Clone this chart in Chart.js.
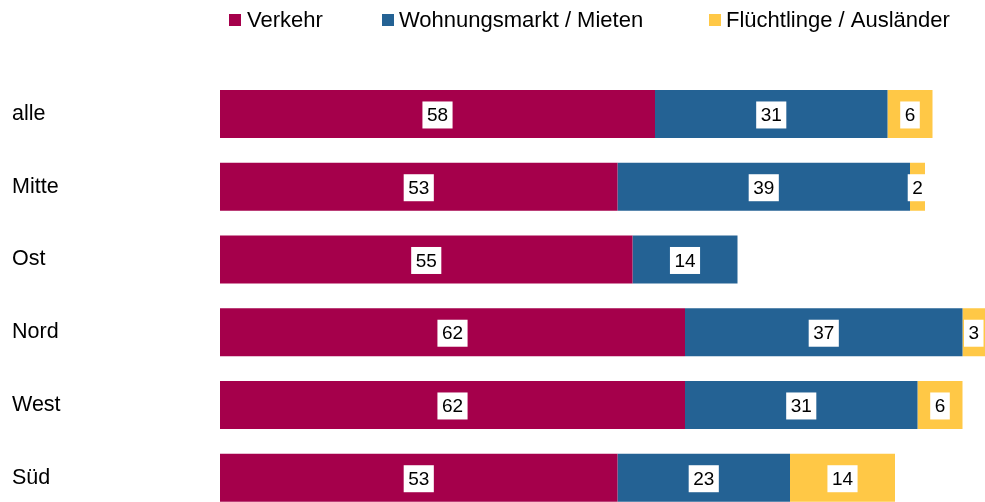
<!DOCTYPE html>
<html>
<head>
<meta charset="utf-8">
<script src="https://cdn.jsdelivr.net/npm/chart.js@4/dist/chart.umd.min.js"></script>
<style>
  html, body { margin: 0; padding: 0; background: #fff; overflow: hidden; }
  canvas { display: block; }
</style>
</head>
<body>
<canvas id="chart" width="985" height="527"></canvas>
<script>
const regions = ['alle', 'Mitte', 'Ost', 'Nord', 'West', 'Süd'];
const verkehr = [58, 53, 55, 62, 62, 53];
const wohnen = [31, 39, 14, 37, 31, 23];
const fluechtlinge = [6, 2, null, 3, 6, 14];
const seriesNames = ['Verkehr', 'Wohnungsmarkt / Mieten', 'Flüchtlinge / Ausländer'];
const colors = ['#a5004b', '#246294', '#ffc846'];

const FONT = '"Liberation Sans", Arial, sans-serif';

// legend drawn at fixed spots like in the original
const legendSpots = [{ box: 229, text: 247 }, { box: 382, text: 399 }, { box: 709, text: 726 }];
const legendPlugin = {
    id: 'legendSpots',
    afterDraw(chart) {
        const c = chart.ctx;
        c.save();
        c.font = '22px ' + FONT;
        c.textBaseline = 'alphabetic';
        chart.data.datasets.forEach((ds, i) => {
            const s = legendSpots[i];
            c.fillStyle = ds.backgroundColor;
            c.fillRect(s.box, 14, 12, 12);
            c.fillStyle = '#000';
            c.fillText(ds.label, s.text, 27);
        });
        c.restore();
    }
};

const labelPlugin = {
    id: 'boxLabels',
    afterDatasetsDraw(chart) {
        const c = chart.ctx;
        c.save();
        c.font = '19px ' + FONT;
        c.textAlign = 'center';
        c.textBaseline = 'middle';
        chart.data.datasets.forEach((ds, i) => {
            chart.getDatasetMeta(i).data.forEach((bar, j) => {
                const v = ds.data[j];
                if (!v) return;
                const txt = String(v);
                const cx = (bar.x + bar.base) / 2;
                const cy = bar.y + 1;
                const w = c.measureText(txt).width + 9;
                c.fillStyle = '#fff';
                c.fillRect(cx - w / 2, cy - 13.5, w, 27);
                c.fillStyle = '#000';
                c.fillText(txt, cx, cy + 1);
            });
        });
        c.restore();
    }
};

new Chart(document.getElementById('chart'), {
    type: 'bar',
    data: {
        labels: regions,
        datasets: [
            { label: seriesNames[0], data: verkehr, backgroundColor: colors[0] },
            { label: seriesNames[1], data: wohnen, backgroundColor: colors[1] },
            { label: seriesNames[2], data: fluechtlinge, backgroundColor: colors[2] }
        ]
    },
    options: {
        indexAxis: 'y',
        responsive: false,
        animation: false,
        datasets: { bar: { barPercentage: 0.66, categoryPercentage: 1, borderWidth: 0 } },
        layout: { padding: { top: 77.6, left: 12, right: 0, bottom: 0 } },
        plugins: { legend: { display: false }, tooltip: { enabled: false } },
        scales: {
            x: { stacked: true, min: 0, max: 102, display: false },
            y: {
                stacked: true,
                grid: { display: false },
                border: { display: false },
                ticks: { color: '#000', font: { family: FONT, size: 21.5 }, crossAlign: 'far', padding: 0 },
                afterFit(scale) { scale.width = 208; }
            }
        }
    },
    plugins: [labelPlugin, legendPlugin]
});
</script>
</body>
</html>
